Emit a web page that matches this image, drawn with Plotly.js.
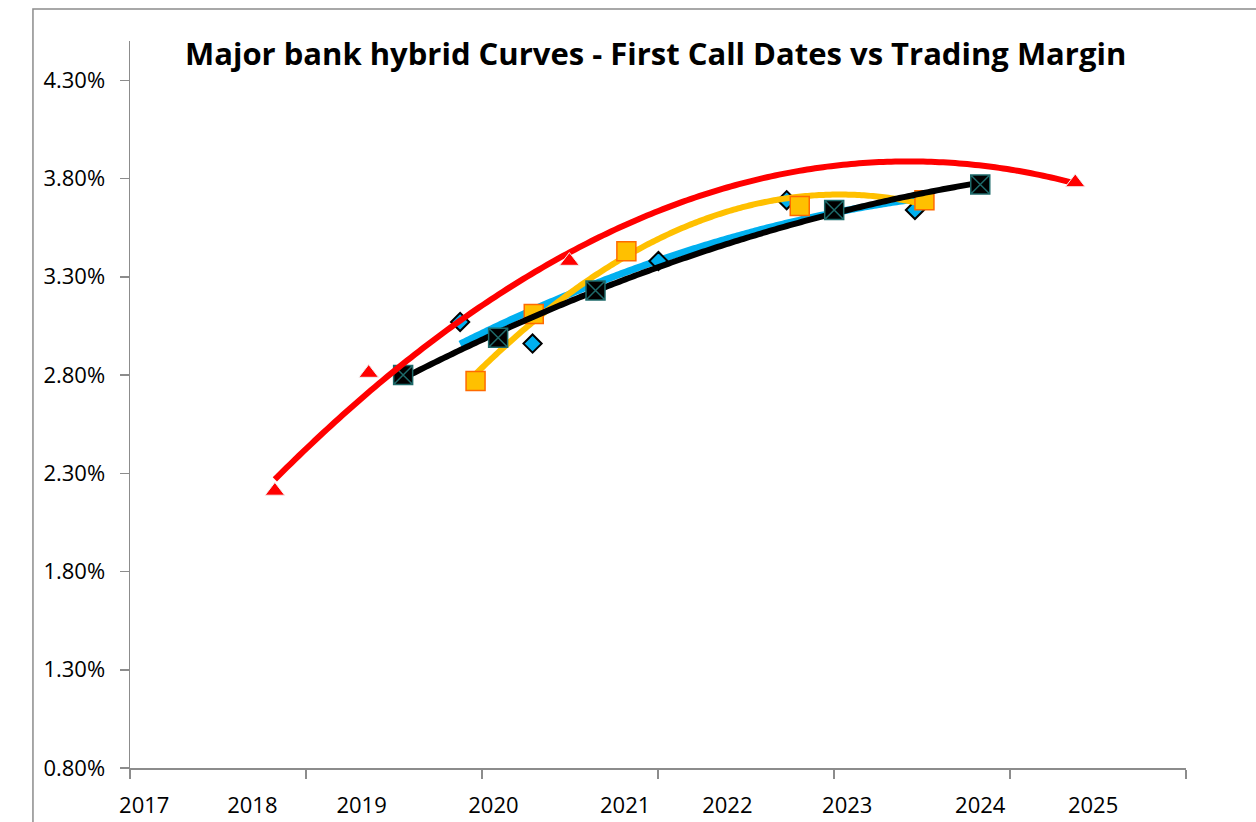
<!DOCTYPE html>
<html>
<head>
<meta charset="utf-8">
<script src="https://cdn.plot.ly/plotly-3.0.1.min.js"></script>
<style>html,body{margin:0;padding:0;background:#fff;}#chart{width:1256px;height:822px;}</style>
</head>
<body>
<div id="chart"></div>
<script>
// Data (x = first call date as decimal year, y = trading margin in %)
const blueX   = [2019.67, 2020.28, 2021.34, 2022.42, 2023.50];
const blueY   = [3.07, 2.96, 3.38, 3.69, 3.64];
const yellowX = [2019.80, 2020.29, 2021.07, 2022.53, 2023.58];
const yellowY = [2.77, 3.11, 3.43, 3.66, 3.69];
const blackX  = [2019.19, 2019.99, 2020.81, 2022.82, 2024.05];
const blackY  = [2.80, 2.99, 3.23, 3.64, 3.77];
const redX    = [2018.11, 2018.90, 2020.59, 2024.85];
const redY    = [2.21, 2.81, 3.38, 3.78];
const yearLabels = ['2017','2018','2019','2020','2021','2022','2023','2024','2025'];
const yearLabelPos = [2017.01, 2017.92, 2018.84, 2019.95, 2021.06, 2021.92, 2022.93, 2024.05, 2025.00];

// Quadratic least-squares trendline (like Excel polynomial order 2)
function polyfit2(xs, ys) {
  const c = 2020;
  let S = [0,0,0,0,0], T = [0,0,0];
  xs.forEach((x0, i) => {
    const x = x0 - c, y = ys[i];
    let p = 1;
    for (let k = 0; k < 5; k++) { S[k] += p; if (k < 3) T[k] += p * y; p *= x; }
  });
  const A = [[S[0],S[1],S[2],T[0]],[S[1],S[2],S[3],T[1]],[S[2],S[3],S[4],T[2]]];
  for (let i = 0; i < 3; i++) {
    let m = i; for (let r = i+1; r < 3; r++) if (Math.abs(A[r][i]) > Math.abs(A[m][i])) m = r;
    [A[i], A[m]] = [A[m], A[i]];
    for (let r = 0; r < 3; r++) if (r !== i) {
      const f = A[r][i] / A[i][i];
      for (let k = i; k < 4; k++) A[r][k] -= f * A[i][k];
    }
  }
  const a = A.map((row, i) => row[3] / row[i]);
  return x => a[0] + a[1]*(x-c) + a[2]*(x-c)*(x-c);
}
function trend(xs, ys) {
  const f = polyfit2(xs, ys);
  const lo = Math.min(...xs), hi = Math.max(...xs);
  const tx = [], ty = [];
  for (let i = 0; i <= 200; i++) { const x = lo + (hi-lo)*i/200; tx.push(x); ty.push(f(x)); }
  return {x: tx, y: ty};
}

const tb = trend(blueX, blueY), ty_ = trend(yellowX, yellowY), tk = trend(blackX, blackY), tr = trend(redX, redY);

const traces = [
  {x: tb.x, y: tb.y, mode: 'lines', line: {color: '#00B0F0', width: 7, simplify: false}, hoverinfo: 'skip'},
  {x: blueX, y: blueY, mode: 'markers', marker: {symbol: 'diamond', size: 14, color: '#00B0F0', line: {color: '#000', width: 2}}},
  {x: ty_.x, y: ty_.y, mode: 'lines', line: {color: '#FFC000', width: 6, simplify: false}, hoverinfo: 'skip'},
  {x: yellowX, y: yellowY, mode: 'markers', marker: {symbol: 'square', size: 19, color: '#FFC000', line: {color: '#FF6A00', width: 1.5}}},
  {x: tk.x, y: tk.y, mode: 'lines', line: {color: '#000000', width: 6, simplify: false}, hoverinfo: 'skip'},
  {x: blackX, y: blackY, mode: 'markers', marker: {symbol: 'square-x', size: 19, color: '#000', line: {color: '#1E6A6A', width: 1.5}}},
  {x: tr.x, y: tr.y, mode: 'lines', line: {color: '#FF0000', width: 6, simplify: false}, hoverinfo: 'skip'},
  {x: redX, y: redY, mode: 'markers', marker: {symbol: 'triangle-up', size: 17, color: '#FF0000', line: {color: '#F4EFEF', width: 1}}},
  {x: [], y: [], xaxis: 'x2', mode: 'markers', hoverinfo: 'skip'}
];

const x0 = 2016.89, pxPerYear = 118.75;
const xRange = [x0, x0 + 1056/pxPerYear];

const layout = {
  width: 1256, height: 822,
  margin: {l: 130, r: 70, t: 41, b: 54},
  paper_bgcolor: '#fff', plot_bgcolor: '#fff',
  showlegend: false,
  font: {family: 'Open Sans, sans-serif', color: '#000'},
  title: {text: 'Major bank hybrid Curves - First Call Dates vs Trading Margin',
          font: {family: 'Open Sans, sans-serif', size: 31, color: '#000', weight: 700},
          x: 0.522, xanchor: 'center', xref: 'container', y: 0.934, yanchor: 'middle', yref: 'container'},
  xaxis: {range: xRange, showgrid: false, zeroline: false, showline: false, ticks: '',
          tickmode: 'array', tickvals: yearLabelPos, ticktext: yearLabels,
          tickfont: {size: 22, color: '#000'}, ticklabelstandoff: 22},
  xaxis2: {overlaying: 'x', matches: 'x', range: xRange, showgrid: false, zeroline: false,
           showline: true, linecolor: '#8C8C8C', linewidth: 1.5,
           ticks: 'outside', ticklen: 9, tickwidth: 1.5, tickcolor: '#8C8C8C',
           tickmode: 'linear', tick0: x0, dtick: 176/pxPerYear, showticklabels: false, side: 'bottom', anchor: 'y'},
  yaxis: {range: [0.8, 4.5], showgrid: false, zeroline: false, showline: true, linecolor: '#8C8C8C', linewidth: 1.5,
          ticks: 'outside', ticklen: 9, tickwidth: 1.5, tickcolor: '#8C8C8C',
          tickmode: 'linear', tick0: 0.8, dtick: 0.5, ticksuffix: '%', tickformat: '.2f',
          tickfont: {size: 22, color: '#000'}, ticklabelstandoff: 10},
  shapes: [{type: 'path', xref: 'paper', yref: 'paper',
            path: 'M -0.0919,-0.2 L -0.0919,1.044 L 1.2,1.044',
            line: {color: '#8C8C8C', width: 1.5}}]
};

Plotly.newPlot('chart', traces, layout, {displayModeBar: false, staticPlot: true});
</script>
</body>
</html>
